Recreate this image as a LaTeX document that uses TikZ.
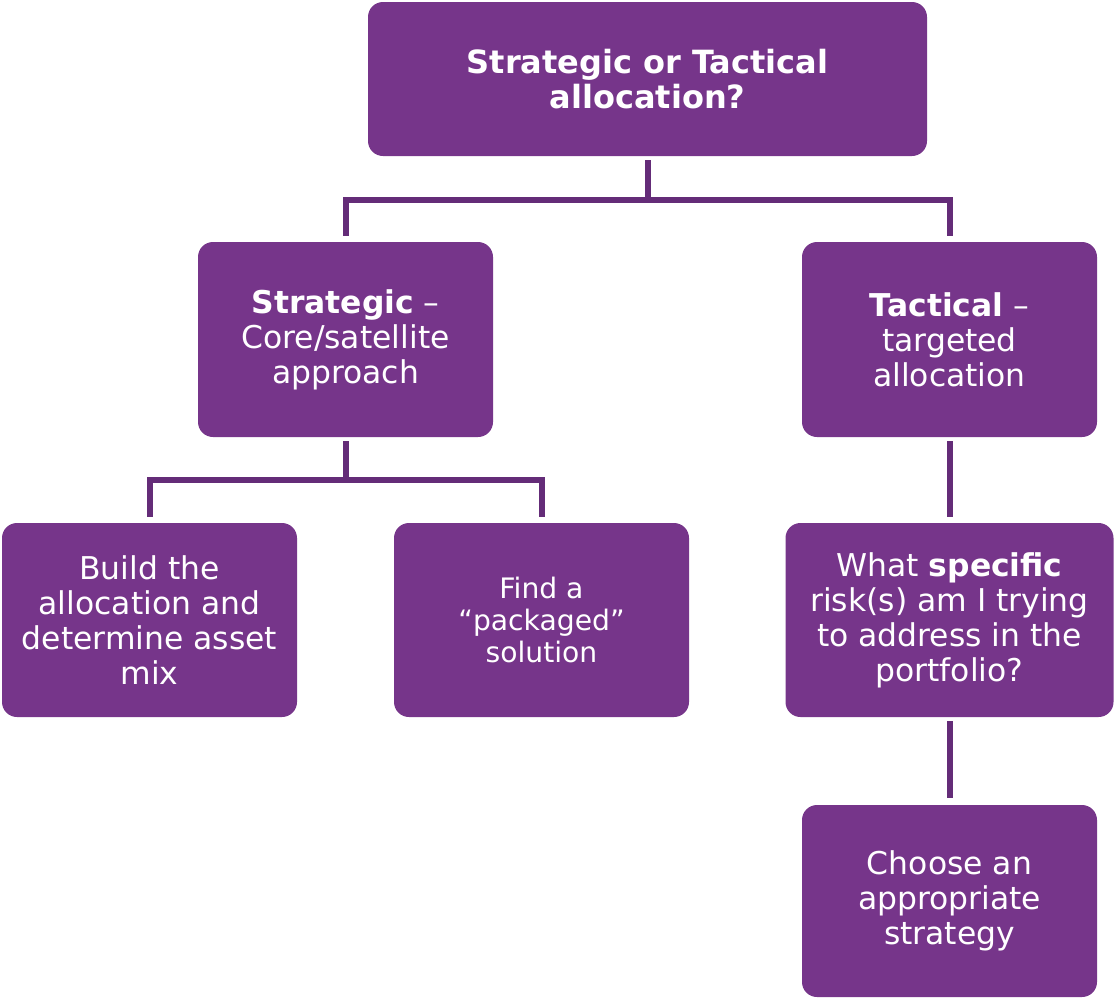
\documentclass[tikz,border=0pt]{standalone}
\usepackage{fontspec}
\setmainfont{DejaVu Sans}
\usepackage{xcolor}
\usetikzlibrary{positioning}
\definecolor{plum}{RGB}{118,53,138}
\definecolor{plumline}{RGB}{100,44,120}
\tikzset{
  qbox/.style ={fill=plum, draw=none, rounded corners=7.5pt, align=center,
                text=white, font=\fontsize{15.7}{17.5}\selectfont, inner sep=0pt},
  sbox/.style ={qbox, font=\fontsize{14.1}{16}\selectfont},
  link/.style ={draw=plumline, line width=3pt, line join=miter},
}
\begin{document}
\begin{tikzpicture}[x=0.5pt,y=-0.5pt]
\useasboundingbox (0,0) rectangle (1114,998);
% ---------- level 1: question ----------
\node[qbox,minimum width=279.5pt,minimum height=77pt,font=\bfseries\fontsize{16}{17.5}\selectfont]
  (top) at (647.5,79) {Strategic or Tactical\\allocation?};

% ---------- level 2: strategic / tactical ----------
\node[qbox,minimum width=147.5pt,minimum height=97.5pt] (strat) at (345.5,339.5)
  {\textbf{Strategic} –\\Core/satellite\\approach};
\node[qbox,minimum width=147.5pt,minimum height=97.5pt] (tact) at (949.5,339.5)
  {\textbf{Tactical} –\\targeted\\allocation};

% ---------- level 3 ----------
\node[qbox,minimum width=147.5pt,minimum height=97pt] (build) at (149.5,620)
  {Build the\\allocation and\\determine asset\\mix};
\node[sbox,minimum width=147.5pt,minimum height=97pt] (find) at (541.5,620)
  {Find a\\“packaged”\\solution};
\node[qbox,minimum width=164pt,minimum height=97pt] (what) at (949.5,620)
  {What \textbf{specific}\\risk(s) am I trying\\to address in the\\portfolio?};

% ---------- level 4 ----------
\node[qbox,minimum width=147.5pt,minimum height=96pt] (choose) at (949.5,901)
  {Choose an\\appropriate\\strategy};

% ---------- connectors ----------
\coordinate (split1) at (647.5,200);
\coordinate (split2) at (345.5,480);
\draw[link] ([yshift=-2pt]top.south) -- (split1) -| ([yshift=3pt]strat.north);
\draw[link] (split1) -| ([yshift=3pt]tact.north);
\draw[link] ([yshift=-2pt]strat.south) -- (split2) -| ([yshift=3pt]build.north);
\draw[link] (split2) -| ([yshift=3pt]find.north);
\draw[link] ([yshift=-2pt]tact.south) -- ([yshift=3pt]what.north);
\draw[link] ([yshift=-2pt]what.south) -- ([yshift=3.5pt]choose.north);
\end{tikzpicture}
\end{document}
